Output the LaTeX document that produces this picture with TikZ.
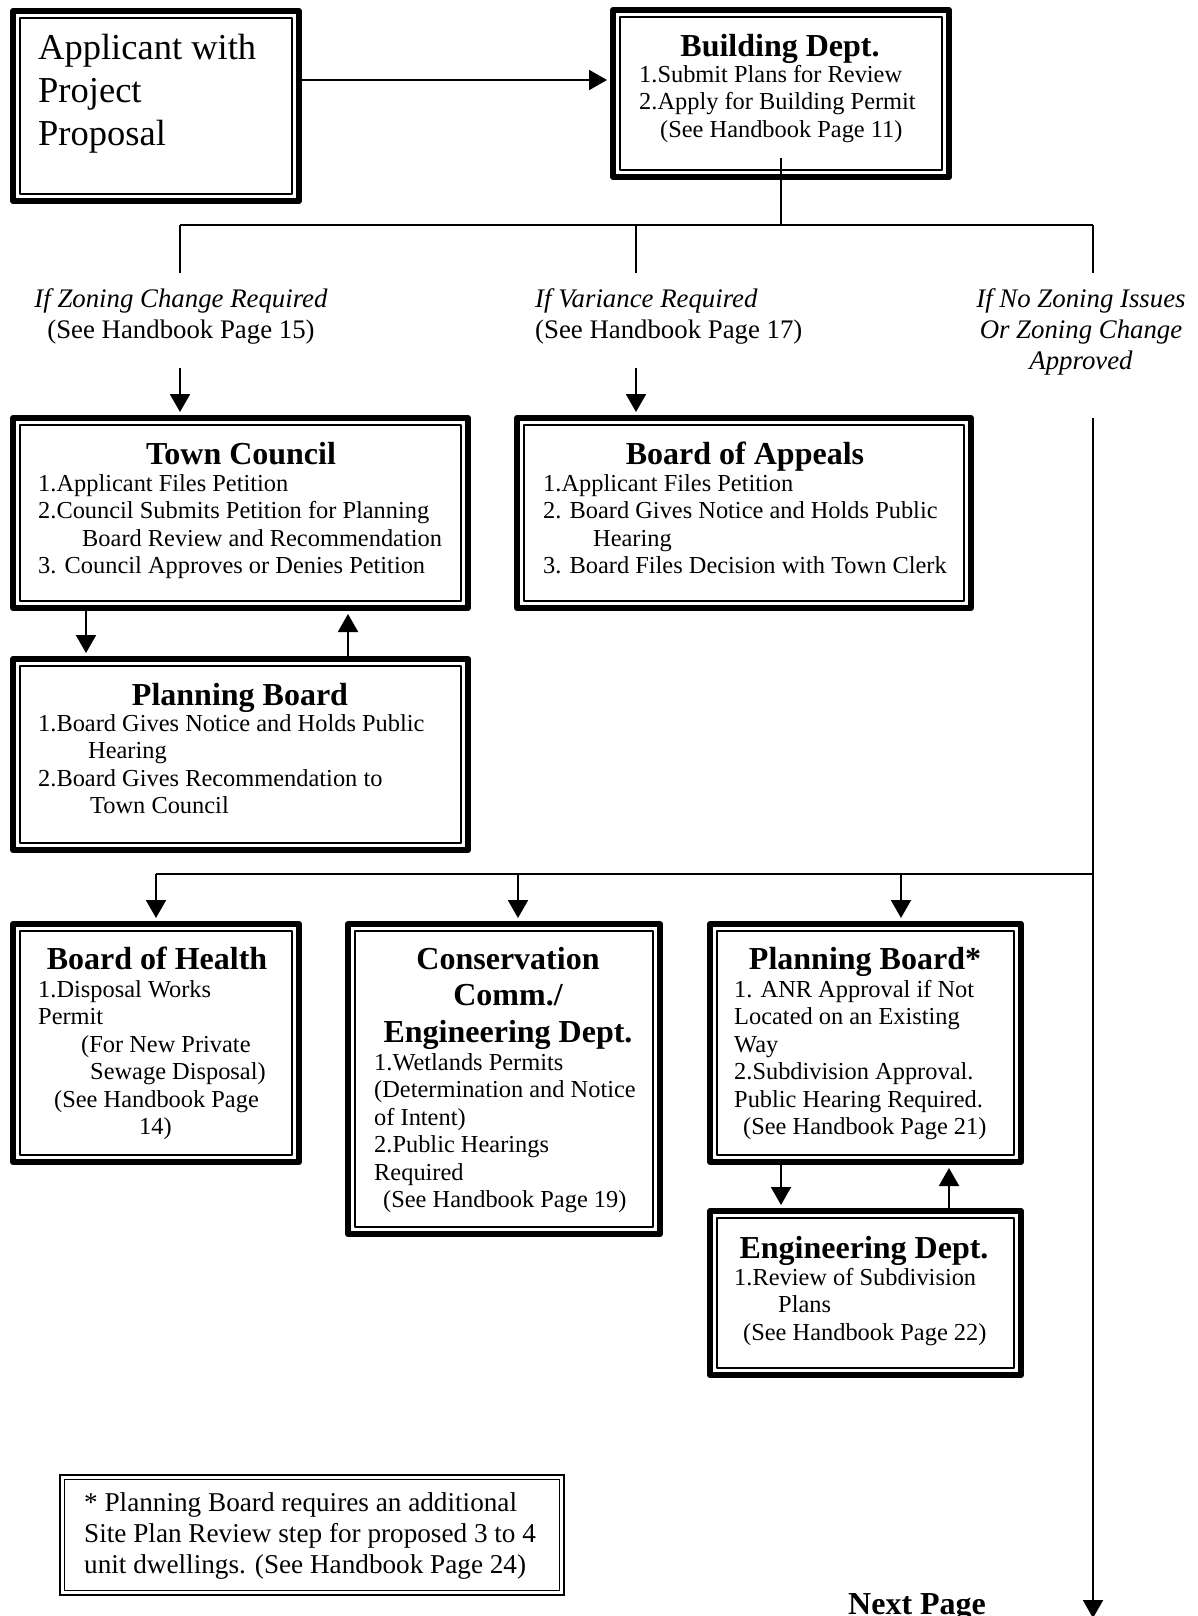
\documentclass[tikz,border=0pt]{standalone}
\usepackage{fontspec}
\setmainfont{Liberation Serif}
\usetikzlibrary{arrows.meta,calc}

\newcommand\fBig{\fontsize{36.5}{43}\selectfont}
\newcommand\fTitle{\fontsize{32}{36.5}\selectfont\bfseries}
\newcommand\fBody{\fontsize{24.4}{27.5}\selectfont}
\newcommand\fLabel{\fontsize{26.8}{31}\selectfont}
\newcommand\fNote{\fontsize{27.2}{31}\selectfont}

\begin{document}
\begin{tikzpicture}[x=1pt,y=-1pt,
  frame/.style={draw, line width=6pt, line join=round, fill=white, inner sep=0pt,
    path picture={\draw[line width=1.6pt]
      ([shift={(6.8pt,-6.8pt)}]path picture bounding box.north west) rectangle
      ([shift={(-6.8pt,6.8pt)}]path picture bounding box.south east);}},
  noteframe/.style={draw, line width=2.5pt, fill=white, inner sep=0pt,
    path picture={\draw[line width=1.5pt]
      ([shift={(4.5pt,-4.5pt)}]path picture bounding box.north west) rectangle
      ([shift={(-4.5pt,4.5pt)}]path picture bounding box.south east);}},
  head/.style={anchor=base, inner sep=0pt, font=\fTitle},
  body/.style={anchor=north west, inner sep=0pt, align=left, font=\fBody},
  cond/.style={anchor=north, inner sep=0pt, align=center, font=\fLabel},
  wire/.style={line width=2pt},
  arr/.style={wire, -{Triangle[width=20pt,length=18pt]}, shorten >=3pt},
]
% page
\fill[white] (0,0) rectangle (1197,1616);
\useasboundingbox (0,0) rectangle (1197,1616);

% boxes
\node[frame, minimum width=286pt, minimum height=190pt] (app) at (156,106) {};
\node[frame, minimum width=336pt, minimum height=167pt] (bld) at (781,93.5) {};
\node[frame, minimum width=455pt, minimum height=190pt] (tc)  at (240.5,513) {};
\node[frame, minimum width=454pt, minimum height=190pt] (boa) at (744,513) {};
\node[frame, minimum width=455pt, minimum height=191pt] (pb)  at (240.5,754.5) {};
\node[frame, minimum width=286pt, minimum height=238pt] (boh) at (156,1043) {};
\node[frame, minimum width=312pt, minimum height=310pt] (con) at (504,1079) {};
\node[frame, minimum width=311pt, minimum height=238pt] (pbs) at (865.5,1043) {};
\node[frame, minimum width=311pt, minimum height=164pt] (eng) at (865.5,1293) {};
\node[noteframe, minimum width=504pt, minimum height=120pt] (note) at (312,1535) {};

% box texts
\node[body, font=\fBig] (appT) at (38,28.9) {\strut Applicant with\\Project\\Proposal};

\node[head] (bldH) at (780,57) {Building Dept.};
\node[body] (bldT) at (639,62.75) {\strut 1.Submit Plans for Review\\2.Apply for Building Permit\\\hspace*{21pt}(See Handbook Page 11)};

\node[head] (tcH) at (241,464) {Town Council};
\node[body] (tcT) at (38,471.75) {\strut 1.Applicant Files Petition\\
2.Council Submits Petition for Planning\\
\hspace*{44pt}Board Review and Recommendation\\
3. Council Approves or Denies Petition};

\node[head] (boaH) at (745,464) {Board of Appeals};
\node[body] (boaT) at (543,471.75) {\strut 1.Applicant Files Petition\\
2. Board Gives Notice and Holds Public\\
\hspace*{50pt}Hearing\\
3. Board Files Decision with Town Clerk};

\node[head] (pbH) at (240,705) {Planning Board};
\node[body] (pbT) at (38,711.75) {\strut 1.Board Gives Notice and Holds Public\\
\hspace*{50pt}Hearing\\
2.Board Gives Recommendation to\\
\hspace*{52pt}Town Council};

\node[head] (bohH) at (157,969) {Board of Health};
\node[body] (bohT) at (38,977.75) {\strut 1.Disposal Works\\
Permit\\
\hspace*{43pt}(For New Private\\
\hspace*{52pt}Sewage Disposal)\\
\hspace*{16pt}(See Handbook Page\\
\hspace*{101pt}14)};

\node[head, anchor=north, align=center] (conH) at (508,943.45) {\strut Conservation\\Comm./\\Engineering Dept.};
\node[body] (conT) at (374,1050.75) {\strut 1.Wetlands Permits\\
(Determination and Notice\\
of Intent)\\
2.Public Hearings\\
Required\\
\hspace*{9pt}(See Handbook Page 19)};

\node[head] (pbsH) at (865,969) {Planning Board*};
\node[body] (pbsT) at (734,977.75) {\strut 1. ANR Approval if Not\\
Located on an Existing\\
Way\\
2.Subdivision Approval.\\
Public Hearing Required.\\
\hspace*{9pt}(See Handbook Page 21)};

\node[head] (engH) at (864,1258) {Engineering Dept.};
\node[body] (engT) at (734,1265.75) {\strut 1.Review of Subdivision\\
\hspace*{44pt}Plans\\
\hspace*{9pt}(See Handbook Page 22)};

\node[body, font=\fNote] (noteT) at (84,1489.3) {\strut * Planning Board requires an additional\\
Site Plan Review step for proposed 3 to 4\\
unit dwellings. (See Handbook Page 24)};

% branch conditions
\node[cond] (lz) at (181,285.3) {\strut\textit{If Zoning Change Required}\\(See Handbook Page 15)};
\node[cond, anchor=north west, align=left] (lv) at (535,285.3) {\strut\textit{If Variance Required}\\(See Handbook Page 17)};
\node[cond, font=\fLabel\itshape] (ln) at (1081,285.3) {\strut If No Zoning Issues\\Or Zoning Change\\Approved};

\node[head, anchor=base west] (next) at (848,1614) {Next Page};

% connectors
\draw[arr] (app.east |- 0,80) -- (bld.west |- 0,80);

\coordinate (jL) at (180,225);
\coordinate (jM) at (636,225);
\coordinate (jR) at (1093,225);
\draw[wire] ([yshift=22pt]bld.south) -- (bld.south |- jL);
\draw[wire] (jL) -- (jR);
\foreach \j in {jL,jM,jR} \draw[wire] (\j) -- ++(0,48);

\draw[arr] (jL |- 0,368) -- (jL |- tc.north);
\draw[arr] (jM |- 0,368) -- (jM |- boa.north);
\draw[arr] (jR |- 0,418) -- (jR |- 0,1621);

\draw[arr] (tc.south -| 86,0) -- (pb.north -| 86,0);
\draw[arr] (pb.north -| 348,0) -- (tc.south -| 348,0);

\coordinate (kR) at (1093,874);
\draw[wire] (kR) -- (kR -| boh.north);
\draw[arr] (kR -| boh.north) -- (boh.north);
\draw[arr] (kR -| 518,0) -- (con.north -| 518,0);
\draw[arr] (kR -| 901,0) -- (pbs.north -| 901,0);

\draw[arr] (pbs.south -| 781,0) -- (eng.north -| 781,0);
\draw[arr] (eng.north -| 949,0) -- (pbs.south -| 949,0);
\end{tikzpicture}
\end{document}
